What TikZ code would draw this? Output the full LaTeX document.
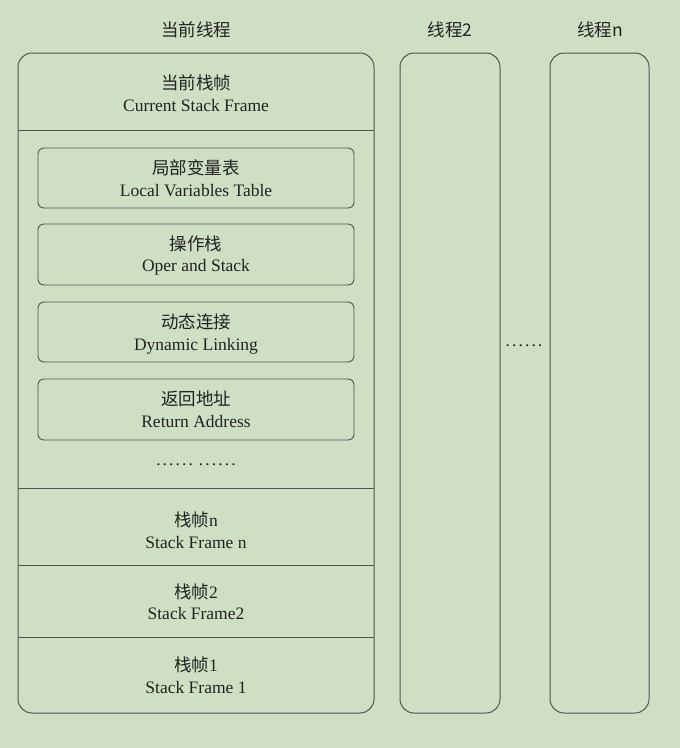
\documentclass[tikz,border=0pt]{standalone}
\usepackage{fontspec}
\setmainfont{Liberation Serif}
\newfontfamily\cjk{Noto Sans CJK SC}
\definecolor{bg}{RGB}{207,223,196}
\definecolor{ln}{RGB}{80,85,80}
\definecolor{tx}{RGB}{34,34,34}
\newcommand{\dotrow}{{\addfontfeature{LetterSpace=12}......}}
\begin{document}
\begin{tikzpicture}[x=1pt,y=-1pt,
  lbl/.style={text=tx,font=\fontsize{17.5}{20}\selectfont,align=center,anchor=center},
  cn/.style={text=tx,font=\fontsize{17.5}{20}\selectfont\cjk,anchor=center},
  outer/.style={draw=ln,line width=1pt,rounded corners=14pt},
  inner/.style={draw=ln,line width=0.9pt,rounded corners=6pt},
  sep/.style={draw=ln,line width=0.9pt}]
\fill[bg] (0,0) rectangle (680,748);
\useasboundingbox (0,0) rectangle (680,748);
% titles
\node[cn] (t1) at (196,30) {当前线程};
\node[cn] (t2) at (450,30) {线程2};
\node[cn] (t3) at (600,30) {线程n};
% main box
\draw[outer] (18,53) rectangle (374,713);
\coordinate (l1a) at (18,130); \coordinate (l1b) at (374,130);
\coordinate (l2a) at (18,488); \coordinate (l2b) at (374,488);
\coordinate (l3a) at (18,565); \coordinate (l3b) at (374,565);
\coordinate (l4a) at (18,637); \coordinate (l4b) at (374,637);
\draw[sep] (l1a) -- (l1b);
\draw[sep] (l2a) -- (l2b);
\draw[sep] (l3a) -- (l3b);
\draw[sep] (l4a) -- (l4b);
% current frame
\node[cn] (cf1) at (196,83) {当前栈帧};
\node[lbl] (cf2) at (196,106) {Current Stack Frame};
% inner boxes
\draw[inner] (38,148) rectangle (354,208);
\node[cn] (b1a) at (196,168) {局部变量表};
\node[lbl] (b1b) at (196,191) {Local Variables Table};
\draw[inner] (38,224) rectangle (354,285);
\node[cn] (b2a) at (196,244) {操作栈};
\node[lbl] (b2b) at (196,267) {Oper and Stack};
\draw[inner] (38,302) rectangle (354,362);
\node[cn] (b3a) at (196,322) {动态连接};
\node[lbl] (b3b) at (196,346) {Dynamic Linking};
\draw[inner] (38,379) rectangle (354,440);
\node[cn] (b4a) at (196,399) {返回地址};
\node[lbl] (b4b) at (196,422) {Return Address};
\node[lbl] (dots1) at (196,465) {\dotrow\hspace{6pt}\dotrow};
% frames
\node[lbl] (fn1) at (196,520) {{\cjk 栈帧}n};
\node[lbl] (fn2) at (196,543) {Stack Frame n};
\node[lbl] (f21) at (196,592) {{\cjk 栈帧}2};
\node[lbl] (f22) at (196,614) {Stack Frame2};
\node[lbl] (f11) at (196,665) {{\cjk 栈帧}1};
\node[lbl] (f12) at (196,688) {Stack Frame 1};
% other threads
\draw[outer] (400,53) rectangle (500,713);
\draw[outer] (550,53) rectangle (649,713);
\node[lbl] (dots2) at (524,346) {\dotrow};
\end{tikzpicture}
\end{document}
